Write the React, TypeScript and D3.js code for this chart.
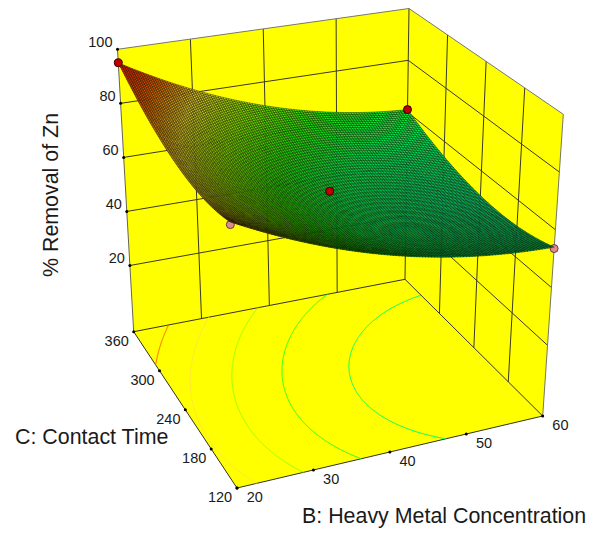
import * as d3 from 'd3';
import React, { useRef, useEffect } from 'react';

const width = 598
const height = 533

// axis levels
const concTicks = [20, 30, 40, 50, 60]
const timeTicks = [120, 180, 240, 300, 360]
const removalTicks = [20, 40, 60, 80, 100]
const removalFloor = -4.5

// % removal at the three levels of each factor
// rows: contact time 120, 240, 360; columns: concentration 20, 40, 60
const concLevels = [20, 40, 60]
const timeLevels = [120, 240, 360]
const removalAt120 = [83.5, 62, 54]
const removalAt240 = [81.7, 59.5, 51]
const removalAt360 = [95, 71, 61]

// design points
const pointsAboveConc = [20, 60, 40]
const pointsAboveTime = [360, 360, 240]
const pointsAboveRemoval = [95, 61, 62.4]
const pointsBelowConc = [20, 60]
const pointsBelowTime = [120, 120]
const pointsBelowRemoval = [82.6, 53.5]

const contourLevels = [57.5, 65, 72.5, 80, 87.5]

const colourStops = [48, 57.5, 65, 72.5, 80, 87.5, 95]
const colourValues = ['#00c88c', '#00ff64', '#28ff14', '#96ff00', '#ffe63c', '#ff6400', '#ff1400']

const meshCells = 110
const contourGrid = 201

// pixel corners of the box: [conc, time] at the floor and at the top of the axis
const floorCorners = { a: [237, 488], b: [542.7, 416], c: [133.7, 331.7], d: [405, 279.3] }
const topCorners = { a: [229, 172], b: [563.3, 114.3], c: [117.5, 49.3], d: [409, 8.5] }

const tx = d3.scaleLinear().domain([20, 60]).range([0, 1])
const ty = d3.scaleLinear().domain([120, 360]).range([0, 1])
const tz = d3.scaleLinear().domain([removalFloor, 100]).range([0, 1])

const mix = (p: number[], q: number[], t: number) => [p[0] + (q[0] - p[0]) * t, p[1] + (q[1] - p[1]) * t]

const project = (conc: number, time: number, removal: number) => {
    const u = tx(conc), v = ty(time), w = tz(removal)
    const low = mix(mix(floorCorners.a, floorCorners.b, u), mix(floorCorners.c, floorCorners.d, u), v)
    const up = mix(mix(topCorners.a, topCorners.b, u), mix(topCorners.c, topCorners.d, u), v)
    return mix(low, up, w)
}

// the model is a quadratic response surface: the parabola through the three levels
const parabola = (t: number, y: number[]) => y[1] + (y[2] - y[0]) / 2 * t + ((y[0] + y[2]) / 2 - y[1]) * t * t
const removalOf = (conc: number, time: number) => {
    const s = (conc - concLevels[1]) / (concLevels[2] - concLevels[1])
    const t = (time - timeLevels[1]) / (timeLevels[2] - timeLevels[1])
    return parabola(t, [parabola(s, removalAt120), parabola(s, removalAt240), parabola(s, removalAt360)])
}

const colour = d3.scaleLinear<string>().domain(colourStops).range(colourValues).clamp(true)

const App = () => {
    const ref = useRef<SVGSVGElement>(null)

    useEffect(() => {
        const svg = d3.select(ref.current)
        svg.selectAll('*').remove()

        const poly = (pts: number[][]) => 'M' + pts.map(p => p[0].toFixed(2) + ',' + p[1].toFixed(2)).join('L') + 'Z'
        const seg = (p: number[], q: number[], stroke = '#3a3a20', w = 1) => svg.append('line')
            .attr('x1', p[0]).attr('y1', p[1]).attr('x2', q[0]).attr('y2', q[1])
            .attr('stroke', stroke).attr('stroke-width', w)

        // walls and floor
        const faces = [
            [project(20, 360, removalFloor), project(60, 360, removalFloor), project(60, 360, 100), project(20, 360, 100)],
            [project(60, 360, removalFloor), project(60, 120, removalFloor), project(60, 120, 100), project(60, 360, 100)],
            [project(20, 120, removalFloor), project(60, 120, removalFloor), project(60, 360, removalFloor), project(20, 360, removalFloor)],
        ]
        svg.selectAll('.face').data(faces).enter().append('path')
            .attr('d', poly).attr('fill', '#ffff00').attr('stroke', 'none')

        // wall grid
        concTicks.slice(1, -1).forEach(b => seg(project(b, 360, removalFloor), project(b, 360, 100)))
        timeTicks.slice(1, -1).forEach(c => seg(project(60, c, removalFloor), project(60, c, 100)))
        removalTicks.slice(0, -1).forEach(z => {
            seg(project(20, 360, z), project(60, 360, z))
            seg(project(60, 360, z), project(60, 120, z))
        })
        seg(project(60, 360, removalFloor), project(60, 360, 100))
        seg(project(20, 360, removalFloor), project(60, 360, removalFloor), '#333320')
        seg(project(60, 360, removalFloor), project(60, 120, removalFloor), '#333320')
        seg(project(20, 120, removalFloor), project(60, 120, removalFloor), '#333320')
        seg(project(20, 120, removalFloor), project(20, 360, removalFloor), '#333320')
        seg(project(20, 360, removalFloor), project(20, 360, 100), '#666650')
        seg(project(20, 360, 100), project(60, 360, 100), '#777770')
        seg(project(60, 360, 100), project(60, 120, 100), '#777770')
        seg(project(60, 120, 100), project(60, 120, removalFloor), '#777760')

        // floor contours
        const grid: number[] = []
        const gridConc = (x: number) => 20 + 40 * (x - 0.5) / (contourGrid - 1)
        const gridTime = (y: number) => 120 + 240 * (y - 0.5) / (contourGrid - 1)
        for (let j = 0; j < contourGrid; j++) {
            for (let i = 0; i < contourGrid; i++) {
                grid.push(removalOf(gridConc(i + 0.5), gridTime(j + 0.5)))
            }
        }
        const contourLine = d3.line<number[]>()
            .defined(p => p[0] > 0 && p[0] < contourGrid && p[1] > 0 && p[1] < contourGrid)
            .x(p => project(gridConc(p[0]), gridTime(p[1]), removalFloor)[0])
            .y(p => project(gridConc(p[0]), gridTime(p[1]), removalFloor)[1])
        d3.contours().size([contourGrid, contourGrid]).thresholds(contourLevels)(grid).forEach(c => {
            c.coordinates.forEach(polygon => polygon.forEach(ring => {
                svg.append('path')
                    .attr('d', contourLine(ring as number[][]))
                    .attr('fill', 'none')
                    .attr('stroke', colour(c.value))
                    .attr('stroke-width', 1)
            }))
        })

        // tick dots
        const dots = [
            ...concTicks.map(b => project(b, 120, removalFloor)),
            ...timeTicks.map(c => project(20, c, removalFloor)),
            ...removalTicks.map(z => project(20, 360, z)),
        ]
        svg.selectAll('.dot').data(dots).enter().append('circle')
            .attr('cx', d => d[0]).attr('cy', d => d[1]).attr('r', 1.5).attr('fill', '#000')

        const marker = (conc: number, time: number, z: number, fill: string, stroke: string) => {
            const p = project(conc, time, z)
            svg.append('circle').attr('cx', p[0]).attr('cy', p[1]).attr('r', 4)
                .attr('fill', fill).attr('stroke', stroke).attr('stroke-width', 1)
        }

        // points under the surface go in first
        pointsBelowConc.forEach((b, i) => marker(b, pointsBelowTime[i], pointsBelowRemoval[i], '#e08a8a', '#604040'))

        // mesh, far corner first
        const concStep = d3.scaleLinear().domain([0, meshCells]).range([60, 20])
        const timeStep = d3.scaleLinear().domain([0, meshCells]).range([360, 120])
        const cells: { d: string, v: number }[] = []
        d3.range(meshCells).forEach(j => d3.range(meshCells).forEach(i => {
            const corners = [[i, j], [i + 1, j], [i + 1, j + 1], [i, j + 1]].map(k => {
                const b = concStep(k[0]), c = timeStep(k[1])
                return project(b, c, removalOf(b, c))
            })
            cells.push({ d: poly(corners), v: removalOf(concStep(i + 0.5), timeStep(j + 0.5)) })
        }))
        svg.append('g').selectAll('path').data(cells).enter().append('path')
            .attr('d', d => d.d)
            .attr('fill', d => colour(d.v))
            .attr('stroke', '#000')
            .attr('stroke-width', 0.4)

        pointsAboveConc.forEach((b, i) => marker(b, pointsAboveTime[i], pointsAboveRemoval[i], '#c00000', '#300000'))

        // labels
        const font = '"Liberation Sans", Arial, sans-serif'
        const label = (x: number, y: number, s: string, size: number, anchor: string, rotate?: number) => svg.append('text')
            .attr('transform', `translate(${x},${y})` + (rotate ? ` rotate(${rotate})` : ''))
            .attr('text-anchor', anchor)
            .attr('dominant-baseline', 'middle')
            .attr('font-family', font)
            .attr('font-size', size)
            .attr('fill', '#1a1a1a')
            .text(s)

        removalTicks.forEach(z => {
            const p = project(20, 360, z)
            label(p[0] - 5, p[1] - 6.5, String(z), 14.5, 'end')
        })
        timeTicks.forEach(c => {
            const p = project(20, c, removalFloor)
            label(p[0] - 17, p[1] + 10, String(c), 14.5, 'middle')
        })
        concTicks.forEach(b => {
            const p = project(b, 120, removalFloor)
            label(p[0] + 17.7, p[1] + 9.7, String(b), 14.5, 'middle')
        })
        label(52, 195, '% Removal of Zn', 21.4, 'middle', -90)
        label(15, 438, 'C: Contact Time', 21.4, 'start')
        label(302, 517, 'B: Heavy Metal Concentration', 21.4, 'start')
    }, [])

    return (
        <svg ref={ref} width={width} height={height}
            style={{ position: 'absolute', left: 0, top: 0, background: '#fff' }} />
    )
}

export default App
